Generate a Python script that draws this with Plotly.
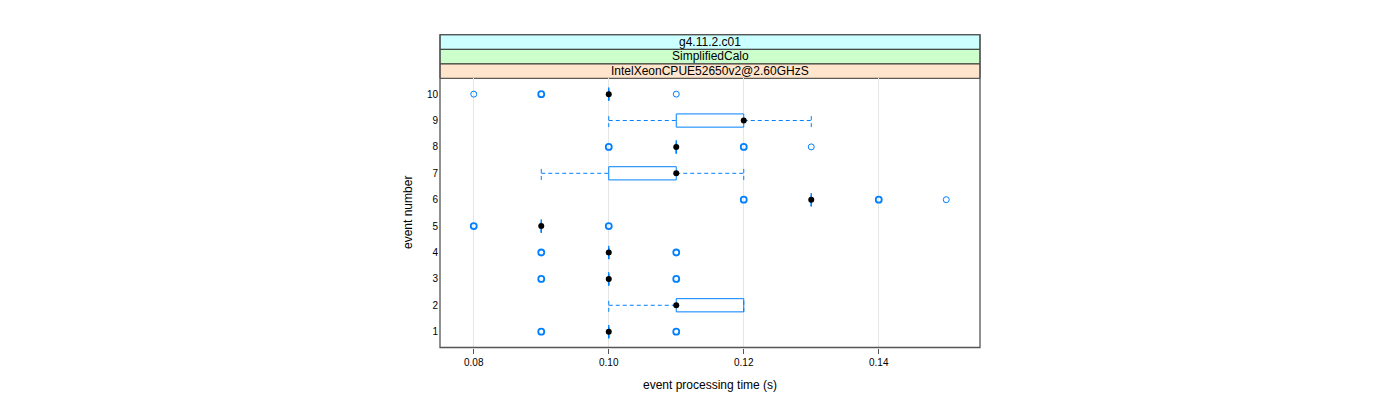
import plotly.graph_objects as go

# ---------------- data ----------------
events = [1, 2, 3, 4, 5, 6, 7, 8, 9, 10]
q1 = [0.10, 0.11, 0.10, 0.10, 0.09, 0.13, 0.10, 0.11, 0.11, 0.10]
median = [0.10, 0.11, 0.10, 0.10, 0.09, 0.13, 0.11, 0.11, 0.12, 0.10]
q3 = [0.10, 0.12, 0.10, 0.10, 0.09, 0.13, 0.11, 0.11, 0.12, 0.10]
whisk_lo = [0.10, 0.10, 0.10, 0.10, 0.09, 0.13, 0.09, 0.11, 0.10, 0.10]
whisk_hi = [0.10, 0.12, 0.10, 0.10, 0.09, 0.13, 0.12, 0.11, 0.13, 0.10]

out_event = [1, 1, 3, 3, 4, 4, 5, 5, 6, 6, 6, 8, 8, 8, 10, 10, 10]
out_time = [0.09, 0.11, 0.09, 0.11, 0.09, 0.11, 0.08, 0.10,
            0.12, 0.14, 0.15, 0.10, 0.12, 0.13, 0.08, 0.09, 0.11]
out_count = [2, 2, 2, 2, 2, 2, 2, 2, 2, 2, 1, 2, 2, 1, 1, 2, 1]

x_ticks = [0.08, 0.10, 0.12, 0.14]
x_tick_labels = ["0.08", "0.10", "0.12", "0.14"]
strip_labels = ["IntelXeonCPUE52650v2@2.60GHzS", "SimplifiedCalo", "g4.11.2.c01"]
strip_colors = ["#ffe5cc", "#ccffcc", "#ccffff"]

x_range = [0.075, 0.155]
y_range = [0.4, 10.6]
half = 0.25

BLUE = "#0080ff"
FONT = "Liberation Sans, Arial, sans-serif"

W, H = 1400, 400
OFF = 8  # page body margin
px_l, px_r = 440 - OFF, 980 - OFF
px_panel_top, px_panel_bot = 78.3 - OFF, 347.5 - OFF
px_strip_top = 34.7 - OFF

def py(v):
    return 1 - v / H

fig = go.Figure()

# whiskers (dashed)
wx, wy = [], []
for e, lo, a, b, hi in zip(events, whisk_lo, q1, q3, whisk_hi):
    wx += [lo, a, None, b, hi, None, lo, lo, None, hi, hi, None]
    wy += [e, e, None, e, e, None, e - half, e + half, None, e - half, e + half, None]
fig.add_trace(go.Scatter(x=wx, y=wy, mode="lines",
                         line=dict(color=BLUE, width=1, dash="4px,3px"),
                         hoverinfo="skip", showlegend=False))

# boxes
bx, by = [], []
for e, a, b in zip(events, q1, q3):
    bx += [a, b, b, a, a, None]
    by += [e - half, e - half, e + half, e + half, e - half, None]
fig.add_trace(go.Scatter(x=bx, y=by, mode="lines",
                         line=dict(color=BLUE, width=1),
                         hoverinfo="skip", showlegend=False))

# outliers
fig.add_trace(go.Scatter(x=out_time, y=out_event, mode="markers",
                         marker=dict(symbol="circle-open", size=6, color=BLUE,
                                     line=dict(color=BLUE,
                                               width=[1.0 if c == 1 else 1.8 for c in out_count])),
                         showlegend=False))

# medians
fig.add_trace(go.Scatter(x=median, y=events, mode="markers",
                         marker=dict(symbol="circle", size=6, color="black"),
                         showlegend=False))

# strips
strip_h = (px_panel_top - px_strip_top) / 3
for i, (lab, col) in enumerate(zip(strip_labels, strip_colors)):
    y0 = px_panel_top - i * strip_h
    y1 = y0 - strip_h
    fig.add_shape(type="rect", xref="paper", yref="paper",
                  x0=px_l / W, x1=px_r / W, y0=py(y0), y1=py(y1),
                  fillcolor=col, line=dict(color="#333333", width=1), layer="below")
    fig.add_annotation(x=(px_l + px_r) / 2 / W, y=py((y0 + y1) / 2), xref="paper", yref="paper",
                       text=lab, showarrow=False, font=dict(family=FONT, size=12, color="black"),
                       xanchor="center", yanchor="middle")

# outer frame
fig.add_shape(type="rect", xref="paper", yref="paper",
              x0=px_l / W, x1=px_r / W, y0=py(px_panel_bot), y1=py(px_strip_top),
              line=dict(color="#555555", width=1.3), fillcolor="rgba(0,0,0,0)")

# axis titles
fig.add_annotation(x=(px_l + px_r) / 2 / W, y=py(385 - OFF), xref="paper", yref="paper",
                   text="event processing time (s)", showarrow=False,
                   xanchor="center", yanchor="middle",
                   font=dict(family=FONT, size=12, color="black"))
fig.add_annotation(x=(408 - OFF) / W, y=py(213 - OFF), xref="paper", yref="paper",
                   text="event number", showarrow=False, textangle=-90,
                   xanchor="center", yanchor="middle",
                   font=dict(family=FONT, size=12, color="black"))

fig.update_layout(
    width=W, height=H,
    margin=dict(l=0, r=0, t=0, b=0),
    paper_bgcolor="white", plot_bgcolor="white",
    xaxis=dict(domain=[px_l / W, px_r / W], range=x_range,
               tickvals=x_ticks, ticktext=x_tick_labels,
               ticks="outside", ticklen=5, tickcolor="#555555",
               ticklabelstandoff=0,
               showgrid=True, gridcolor="#e6e6e6", gridwidth=1,
               zeroline=False, showline=False,
               tickfont=dict(family=FONT, size=10, color="black")),
    xaxis2=dict(overlaying="x", side="top", anchor="free", position=py(px_strip_top),
                range=x_range, tickvals=x_ticks, showticklabels=False,
                ticks="outside", ticklen=5, tickcolor="#555555",
                showgrid=False, zeroline=False, showline=False),
    yaxis=dict(domain=[py(px_panel_bot), py(px_panel_top)], range=y_range,
               tickvals=events, ticktext=[str(e) for e in events],
               ticks="", ticklabelstandoff=1,
               showgrid=False, zeroline=False, showline=False,
               tickfont=dict(family=FONT, size=10, color="black")),
)

fig.write_html("out.html")
